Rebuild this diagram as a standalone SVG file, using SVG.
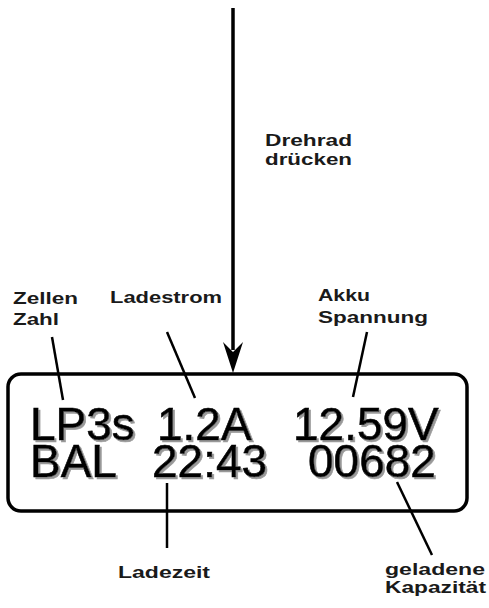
<svg xmlns="http://www.w3.org/2000/svg" width="489" height="608" viewBox="0 0 489 608">
  <style>
    .lcd { font-family: "Liberation Sans", Arial, sans-serif; font-size: 46px; fill: #000; stroke: #000; stroke-width: 0.6; }
    .lbl { font-family: "Liberation Sans", Arial, sans-serif; font-size: 16px; font-weight: bold; fill: #1a1a1a; }
    .lead { stroke: #000; stroke-width: 2.5; fill: none; }
  </style>
  <defs>
    <filter id="shadow" x="-5%" y="-10%" width="115%" height="130%">
      <feOffset in="SourceAlpha" dx="2" dy="2" result="off"/>
      <feFlood flood-color="#999999"/>
      <feComposite in2="off" operator="in" result="sh"/>
      <feMerge>
        <feMergeNode in="sh"/>
        <feMergeNode in="SourceGraphic"/>
      </feMerge>
    </filter>
  </defs>
  <rect width="489" height="608" fill="#fff"/>
  <g id="display">
    <rect x="8" y="374" width="459" height="137" rx="13" ry="13" fill="none" stroke="#000" stroke-width="3.5"/>
    <g filter="url(#shadow)">
      <text class="lcd"><tspan x="30" y="440">LP3s</tspan><tspan x="157" y="440">1.2A</tspan><tspan x="293" y="440">12.59V</tspan><tspan x="30" y="477">BAL</tspan><tspan x="152" y="477">22:43</tspan><tspan x="308" y="477">00682</tspan></text>
    </g>
  </g>
  <g id="label-drehrad">
    <text class="lbl" x="265" y="146" textLength="87" lengthAdjust="spacingAndGlyphs">Drehrad</text>
    <text class="lbl" x="265" y="165" textLength="87" lengthAdjust="spacingAndGlyphs">drücken</text>
  </g>
  <g id="label-zellen">
    <text class="lbl" x="13" y="304" textLength="65" lengthAdjust="spacingAndGlyphs">Zellen</text>
    <text class="lbl" x="13" y="325" textLength="46" lengthAdjust="spacingAndGlyphs">Zahl</text>
  </g>
  <g id="label-ladestrom">
    <text class="lbl" x="110" y="303" textLength="112" lengthAdjust="spacingAndGlyphs">Ladestrom</text>
  </g>
  <g id="label-akku">
    <text class="lbl" x="318" y="301" textLength="52" lengthAdjust="spacingAndGlyphs">Akku</text>
    <text class="lbl" x="318" y="323" textLength="110" lengthAdjust="spacingAndGlyphs">Spannung</text>
  </g>
  <g id="label-ladezeit">
    <text class="lbl" x="118" y="578" textLength="92" lengthAdjust="spacingAndGlyphs">Ladezeit</text>
  </g>
  <g id="label-kapazitaet">
    <text class="lbl" x="385" y="575" textLength="100" lengthAdjust="spacingAndGlyphs">geladene</text>
    <text class="lbl" x="385" y="593" textLength="101" lengthAdjust="spacingAndGlyphs">Kapazität</text>
  </g>
  <g id="connectors">
    <line x1="233" y1="8" x2="233" y2="350" stroke="#000" stroke-width="3.5"/>
    <polygon points="223,342 233,352 243,342 233,373" fill="#000"/>
    <line class="lead" x1="52" y1="337" x2="63" y2="400"/>
    <line class="lead" x1="167" y1="332" x2="195" y2="398"/>
    <line class="lead" x1="367" y1="332" x2="353" y2="397"/>
    <line class="lead" x1="167" y1="483" x2="167" y2="548"/>
    <line class="lead" x1="397" y1="482" x2="432" y2="555"/>
  </g>
</svg>
